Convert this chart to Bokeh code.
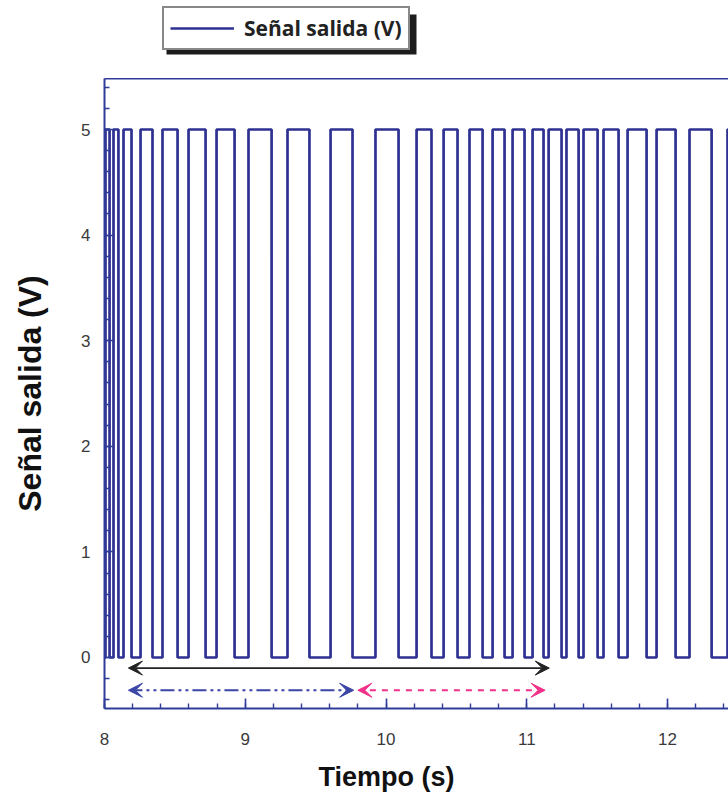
from bokeh.plotting import figure
from bokeh.layouts import column
from bokeh.models import (Range1d, LinearAxis, FixedTicker, Legend, LegendItem,
                          Arrow, VeeHead, BoxAnnotation)
from bokeh.embed import file_html
from bokeh.resources import INLINE

# Rising / falling edge times of the output pulses (s)
subidas = [8.007, 8.064, 8.135, 8.256, 8.412, 8.597, 8.796, 9.023, 9.300,
           9.606, 9.925, 10.217, 10.409, 10.593, 10.757, 10.899, 11.041,
           11.155, 11.282, 11.403, 11.545, 11.716, 11.922, 12.156, 12.426]
bajadas = [8.036, 8.099, 8.192, 8.341, 8.519, 8.718, 8.924, 9.187, 9.456,
           9.762, 10.089, 10.323, 10.508, 10.686, 10.842, 10.984, 11.119,
           11.247, 11.368, 11.503, 11.652, 11.851, 12.057, 12.313, 12.600]
nivel_bajo = 0.0
nivel_alto = 5.0
t_inicio = 8.0

x_ticks = [8, 9, 10, 11, 12]
y_ticks = [0, 1, 2, 3, 4, 5]

# Interval arrows drawn under the signal: (start, end, level)
intervalo_total = (8.17, 11.16, -0.10)
intervalo_azul = (8.17, 9.77, -0.31)
intervalo_rosa = (9.80, 11.13, -0.31)

AZUL = "#2e3192"
EJE = "#2f3c99"
LINEA = dict(line_color=AZUL, line_width=2.7)

# Step trace of the square signal
xs = [t_inicio]
ys = [nivel_bajo]
for r, f in zip(subidas, bajadas):
    xs += [r, r, f, f]
    ys += [nivel_bajo, nivel_alto, nivel_alto, nivel_bajo]

# ---- main chart ----
p = figure(width=728, height=720, output_backend="svg", toolbar_location=None,
           x_range=Range1d(8.0, 12.433), y_range=Range1d(-0.483, 5.483),
           min_border_left=104, min_border_right=0, min_border_top=0,
           min_border_bottom=90)
p.outline_line_color = None
p.grid.visible = False
p.background_fill_color = "white"
p.border_fill_color = "white"

p.line(xs, ys, **LINEA)

for ax in (p.xaxis[0], p.yaxis[0]):
    ax.axis_line_color = EJE
    ax.axis_line_width = 2
    ax.major_tick_line_color = EJE
    ax.minor_tick_line_color = EJE
    ax.major_tick_line_width = 1.6
    ax.minor_tick_line_width = 1.4
    ax.major_tick_in = 10
    ax.major_tick_out = 0
    ax.minor_tick_in = 5
    ax.minor_tick_out = 0
    ax.major_label_text_font = "Liberation Sans"
    ax.major_label_text_font_size = "17px"
    ax.major_label_text_color = "#3a3a3a"
    ax.axis_label_text_font = "Liberation Sans"
    ax.axis_label_text_font_style = "bold"
    ax.axis_label_text_color = "#111111"

p.xaxis[0].ticker = FixedTicker(ticks=x_ticks,
                                minor_ticks=[8 + 0.2 * i for i in range(0, 23)])
p.yaxis[0].ticker = FixedTicker(ticks=y_ticks,
                                minor_ticks=[-0.4 + 0.2 * i for i in range(0, 30)])
p.xaxis[0].axis_label = "Tiempo (s)" + "\u00a0" * 8
p.xaxis[0].axis_label_text_font_size = "27px"
p.xaxis[0].major_label_standoff = 24
p.xaxis[0].axis_label_standoff = 14
p.yaxis[0].axis_label = "Señal salida (V)"
p.yaxis[0].axis_label_text_font_size = "32px"
p.yaxis[0].major_label_standoff = 14
p.yaxis[0].axis_label_standoff = 30

# Plain top border of the frame
top = LinearAxis(ticker=FixedTicker(ticks=[]), axis_line_color=EJE,
                 axis_line_width=2, major_label_text_color=None,
                 major_tick_line_color=None, minor_tick_line_color=None,
                 major_tick_out=0, minor_tick_out=0, major_tick_in=0,
                 minor_tick_in=0, major_label_standoff=0)
p.add_layout(top, "above")

# Interval arrows
def flecha(intervalo, color, dash, width):
    x0, x1, yv = intervalo
    head = dict(size=14, line_color=color, fill_color=color, line_width=1)
    p.add_layout(Arrow(x_start=x0, y_start=yv, x_end=x1, y_end=yv,
                       start=VeeHead(**head), end=VeeHead(**head),
                       line_color=color, line_width=width, line_dash=dash))

flecha(intervalo_total, "#222222", "solid", 1.8)
flecha(intervalo_azul, "#3a45a6", "14 4 3 4 3 4", 1.8)
flecha(intervalo_rosa, "#f2318a", "6 6", 1.8)

# ---- legend strip above the chart (ranges in page pixels) ----
lg = figure(width=728, height=78, output_backend="svg", toolbar_location=None,
            x_range=Range1d(104, 728), y_range=Range1d(0, 78),
            min_border_left=104, min_border_right=0, min_border_top=0,
            min_border_bottom=0, outline_line_color=None)
lg.axis.visible = False
lg.grid.visible = False
muestra = lg.line([-50, -40], [-50, -40], **LINEA)

lg.add_layout(BoxAnnotation(left=166, right=416, bottom=24, top=64,
                            fill_color="#1c1c1c", fill_alpha=1.0,
                            line_color=None))
legend = Legend(items=[LegendItem(label="Señal salida (V)", renderers=[muestra])],
                location=(58, 28), border_line_color="#111111",
                border_line_width=2, background_fill_color="white",
                background_fill_alpha=1.0, label_text_font="Open Sans",
                label_text_font_style="bold", label_text_font_size="21px",
                label_text_color="#222222", glyph_width=64, glyph_height=22,
                label_standoff=10, padding=6, margin=0, spacing=0)
lg.add_layout(legend)

open("out.html", "w").write(file_html(column(lg, p, spacing=0), INLINE))
